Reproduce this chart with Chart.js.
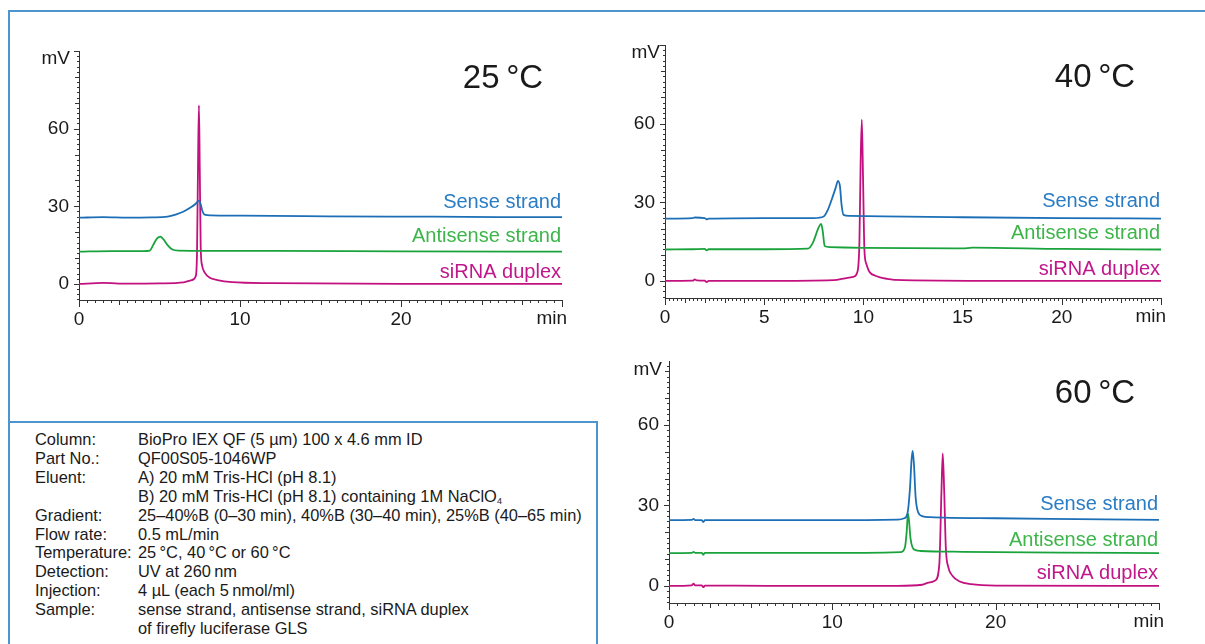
<!DOCTYPE html>
<html>
<head>
<meta charset="utf-8">
<script src="https://cdn.jsdelivr.net/npm/chart.js@4.4.1/dist/chart.umd.min.js"></script>
<style>
  html, body { margin: 0; padding: 0; background: #fff; }
  body { width: 1205px; height: 644px; position: relative; overflow: hidden; font-family: 'Liberation Sans', Arial, sans-serif; color: #1a1a1a; }
  canvas { position: absolute; }
  .line { position: absolute; background: #4d95cf; }
  .info { position: absolute; left: 35px; top: 430px; display: grid; grid-template-columns: 103px auto; font-size: 16.4px; line-height: 18.9px; white-space: nowrap; }
  .info sub { font-size: 9px; vertical-align: -2px; line-height: 0; }
</style>
</head>
<body>
<div class="line" style="left:8px;top:10px;width:1197px;height:2px"></div>
<div class="line" style="left:8px;top:10px;width:2px;height:634px"></div>
<div class="line" style="left:8px;top:421px;width:590px;height:2px"></div>
<div class="line" style="left:596px;top:421px;width:2px;height:223px"></div>

<canvas id="c25" width="600" height="340" style="left:0;top:0"></canvas>
<canvas id="c40" width="605" height="340" style="left:600px;top:0"></canvas>
<canvas id="c60" width="605" height="304" style="left:600px;top:340px"></canvas>

<div class="info">
  <div>Column:</div><div>BioPro IEX QF (5 µm) 100 x 4.6 mm ID</div>
  <div>Part No.:</div><div>QF00S05-1046WP</div>
  <div>Eluent:</div><div>A) 20 mM Tris-HCl (pH 8.1)</div>
  <div></div><div>B) 20 mM Tris-HCl (pH 8.1) containing 1M NaClO<sub>4</sub></div>
  <div>Gradient:</div><div>25–40%B (0–30 min), 40%B (30–40 min), 25%B (40–65 min)</div>
  <div>Flow rate:</div><div>0.5 mL/min</div>
  <div>Temperature:</div><div>25&#8201;°C, 40&#8201;°C or 60&#8201;°C</div>
  <div>Detection:</div><div>UV at 260&#8201;nm</div>
  <div>Injection:</div><div>4 µL (each 5&#8201;nmol/ml)</div>
  <div>Sample:</div><div>sense strand, antisense strand, siRNA duplex</div>
  <div></div><div>of firefly luciferase GLS</div>
</div>

<script>
// retention time (min) and signal (mV)

// 25 °C
const t25Sense = [0, 1.5, 3, 4.5, 5.5, 6, 6.5, 7, 7.25, 7.45, 7.55, 7.65, 7.8, 8.2, 10, 14, 19.5, 22, 26, 30]
const v25Sense = [25.6, 25.8, 25.6, 25.7, 26.0, 26.8, 28.0, 29.8, 31.0, 32.2, 31.0, 28.5, 26.8, 26.5, 26.4, 26.2, 26.0, 26.0, 25.8, 25.8]
const t25Anti = [0, 2, 4, 4.4, 4.6, 4.85, 5.05, 5.25, 5.5, 5.8, 6.2, 8, 12, 20, 30]
const v25Anti = [12.5, 12.7, 12.7, 12.9, 15.0, 17.6, 18.3, 17.2, 15.0, 13.3, 12.9, 12.8, 12.8, 12.6, 12.5]
const t25Duplex = [0, 1.5, 3, 5, 6.5, 7.0, 7.25, 7.33, 7.4, 7.45, 7.5, 7.56, 7.65, 7.8, 8.1, 8.6, 9.5, 12, 20, 30]
const v25Duplex = [0, 0.4, 0.1, 0.2, 0.6, 1.5, 3, 12, 50, 69, 45, 14, 7, 4.5, 2.5, 1.5, 0.7, 0.3, 0, 0]

// 40 °C
const t40Sense = [0, 1.4, 1.5, 2.0, 2.1, 2.2, 5, 7.5, 8.0, 8.2, 8.4, 8.6, 8.72, 8.82, 8.9, 9.0, 9.3, 11, 15, 20, 25]
const v40Sense = [23.8, 24.0, 24.2, 24.0, 23.5, 23.8, 24.0, 24.0, 24.6, 27, 31, 35.5, 38.2, 36, 29, 25.2, 24.8, 24.6, 24.3, 24.0, 23.8]
const t40Anti = [0, 1.4, 2.0, 2.1, 2.2, 5, 7.2, 7.45, 7.6, 7.75, 7.87, 7.95, 8.05, 8.3, 10, 15, 15.5, 20, 25]
const v40Anti = [12.0, 12.1, 12.2, 11.7, 12.1, 12.1, 12.3, 14.5, 17.5, 20.5, 21.8, 19, 13.3, 12.9, 12.6, 12.4, 12.7, 12.2, 12.0]
const t40Duplex = [0, 1.4, 1.5, 1.6, 2.0, 2.1, 2.2, 5, 8.5, 9.2, 9.5, 9.7, 9.8, 9.86, 9.92, 9.98, 10.05, 10.15, 10.3, 10.6, 11.2, 12, 18, 25]
const v40Duplex = [0, 0.1, 0.6, 0.2, 0.1, -0.4, 0, 0, 0.3, 1.2, 1.6, 3.5, 15, 45, 61.5, 40, 12, 6.5, 3.5, 2.0, 0.8, 0.3, 0, 0]

// 60 °C
const t60Sense = [0, 1.4, 1.5, 1.6, 2.0, 2.1, 2.2, 6, 10, 14, 14.4, 14.6, 14.75, 14.85, 14.92, 15.0, 15.1, 15.25, 15.5, 16, 20, 25, 30]
const v60Sense = [24.5, 24.6, 25.0, 24.5, 24.5, 23.8, 24.5, 24.5, 24.5, 24.7, 25.2, 27, 36, 47, 50.3, 45, 33, 27.5, 26.0, 25.6, 25.2, 24.9, 24.6]
const t60Anti = [0, 1.4, 1.5, 1.6, 2.0, 2.1, 2.2, 6, 12, 14.2, 14.45, 14.55, 14.63, 14.7, 14.78, 14.9, 15.1, 15.4, 18, 24, 30]
const v60Anti = [12.2, 12.3, 12.7, 12.3, 12.3, 11.6, 12.3, 12.3, 12.3, 12.6, 14.5, 20, 26.9, 24, 18, 14.5, 13.3, 13.0, 12.7, 12.4, 12.2]
const t60Duplex = [0, 1.4, 1.5, 1.6, 2.0, 2.1, 2.2, 6, 14, 15.5, 15.9, 16.3, 16.55, 16.68, 16.76, 16.85, 16.95, 17.1, 17.35, 17.8, 18.5, 20, 30]
const v60Duplex = [0, 0.2, 0.8, 0.2, 0.2, -0.5, 0.1, 0, 0, 0.4, 1.2, 2.0, 8, 35, 49.4, 35, 14, 7, 3.8, 1.6, 0.6, 0.1, 0]

const seriesNames = ['Sense strand', 'Antisense strand', 'siRNA duplex']
const yTickLabels = [0, 30, 60]
const xTickLabels25 = [0, 10, 20]
const xTickLabels40 = [0, 5, 10, 15, 20]
const xTickLabels60 = [0, 10, 20]

const FONT = "'Liberation Sans', Arial, sans-serif"
const COLORS = [
  { line: '#1c6fb6', text: '#2a7cc4' },
  { line: '#1aa33c', text: '#3db54a' },
  { line: '#c2117f', text: '#c0178a' }
]

// axis ticks, unit labels, panel title and trace names
const decor = {
  id: 'decor',
  afterDraw (chart, args, o) {
    const { ctx, chartArea: a, scales: { x, y } } = chart
    ctx.save()
    ctx.strokeStyle = '#333'
    ctx.lineWidth = 1
    ctx.beginPath()
    const yStart = Math.ceil(y.min / o.yMinor) * o.yMinor
    const ny = Math.floor((y.max - yStart) / o.yMinor + 1e-6)
    for (let i = 0; i <= ny; i++) {
      const v = yStart + i * o.yMinor
      const py = Math.round(y.getPixelForValue(v)) + 0.5
      const len = Math.abs(v % 30) < 1e-6 ? 5 : (Math.abs(v % 10) < 1e-6 ? 4 : 2)
      ctx.moveTo(a.left - len, py)
      ctx.lineTo(a.left, py)
    }
    const nx = Math.round(x.max / o.xMinor)
    for (let i = 0; i <= nx; i++) {
      const v = i * o.xMinor
      const px = Math.round(x.getPixelForValue(v)) + 0.5
      const isMajor = Math.abs(v / o.xMajor - Math.round(v / o.xMajor)) < 1e-6
      const isMid = Math.abs(v / o.xMid - Math.round(v / o.xMid)) < 1e-6
      const len = isMajor ? 7 : (isMid ? 5 : 3)
      ctx.moveTo(px, a.bottom)
      ctx.lineTo(px, a.bottom + len)
    }
    ctx.stroke()

    ctx.fillStyle = '#1a1a1a'
    ctx.textBaseline = 'middle'
    ctx.font = `19px ${FONT}`
    ctx.textAlign = 'right'
    ctx.fillText('mV', a.left - o.mvGap, a.top + 8)
    ctx.fillText('min', a.right + 5, a.bottom + 19)

    ctx.font = `33px ${FONT}`
    ctx.textAlign = 'center'
    ctx.fillText(o.title, o.titleX, o.titleY)

    ctx.font = `20px ${FONT}`
    ctx.textAlign = 'right'
    o.labelAt.forEach((v, i) => {
      ctx.fillStyle = COLORS[i].text
      ctx.fillText(seriesNames[i], a.right - 1, y.getPixelForValue(v))
    })
    ctx.restore()
  }
}

function drawPanel (id, p) {
  const datasets = p.series.map(([t, v], i) => ({
    data: t.map((tt, k) => ({ x: tt, y: v[k] })),
    borderColor: COLORS[i].line,
    borderWidth: 1.8,
    pointRadius: 0,
    cubicInterpolationMode: 'monotone',
    fill: false
  }))

  return new Chart(document.getElementById(id).getContext('2d'), {
    type: 'line',
    data: { datasets },
    plugins: [decor],
    options: {
      responsive: false,
      animation: false,
      devicePixelRatio: 1,
      layout: { padding: p.padding },
      plugins: {
        legend: { display: false },
        tooltip: { enabled: false },
        decor: p.decor
      },
      scales: {
        x: {
          type: 'linear',
          min: 0,
          max: p.xMax,
          grid: { display: false, drawTicks: false },
          border: { color: '#333', width: 1 },
          ticks: { color: '#1a1a1a', font: { family: FONT, size: 19 }, padding: 8 },
          afterBuildTicks: s => { s.ticks = p.xTicks.map(v => ({ value: v })) },
          afterFit: s => { s.height = 30 }
        },
        y: {
          min: p.yMin,
          max: p.yMax,
          grid: { display: false, drawTicks: false },
          border: { color: '#333', width: 1 },
          ticks: { color: '#1a1a1a', font: { family: FONT, size: 19 }, padding: 10 },
          afterBuildTicks: s => { s.ticks = yTickLabels.map(v => ({ value: v })) },
          afterFit: s => { s.width = 40 }
        }
      }
    }
  })
}

drawPanel('c25', {
  series: [[t25Sense, v25Sense], [t25Anti, v25Anti], [t25Duplex, v25Duplex]],
  padding: { left: 39, top: 51, right: 38, bottom: 10 },
  xMax: 30,
  yMin: -6.2,
  yMax: 90,
  xTicks: xTickLabels25,
  decor: { title: '25\u2009°C', titleX: 503, titleY: 79, mvGap: 9, yMinor: 2, xMinor: 0.5, xMid: 2.5, xMajor: 10, labelAt: [31.6, 18.5, 4.6] }
})

drawPanel('c40', {
  series: [[t40Sense, v40Sense], [t40Anti, v40Anti], [t40Duplex, v40Duplex]],
  padding: { left: 25, top: 45, right: 44, bottom: 12 },
  xMax: 25,
  yMin: -6.5,
  yMax: 90,
  xTicks: xTickLabels40,
  decor: { title: '40\u2009°C', titleX: 495, titleY: 78, mvGap: 5, yMinor: 2, xMinor: 0.2, xMid: 1, xMajor: 5, labelAt: [30.3, 18, 4.2] }
})

drawPanel('c60', {
  series: [[t60Sense, v60Sense], [t60Anti, v60Anti], [t60Duplex, v60Duplex]],
  padding: { left: 29, top: 17, right: 46, bottom: 11 },
  xMax: 30,
  yMin: -6.4,
  yMax: 83.7,
  xTicks: xTickLabels60,
  decor: { title: '60\u2009°C', titleX: 495, titleY: 54, mvGap: 7, yMinor: 2, xMinor: 0.5, xMid: 2.5, xMajor: 10, labelAt: [30.5, 17.1, 4.6] }
})
</script>
</body>
</html>
